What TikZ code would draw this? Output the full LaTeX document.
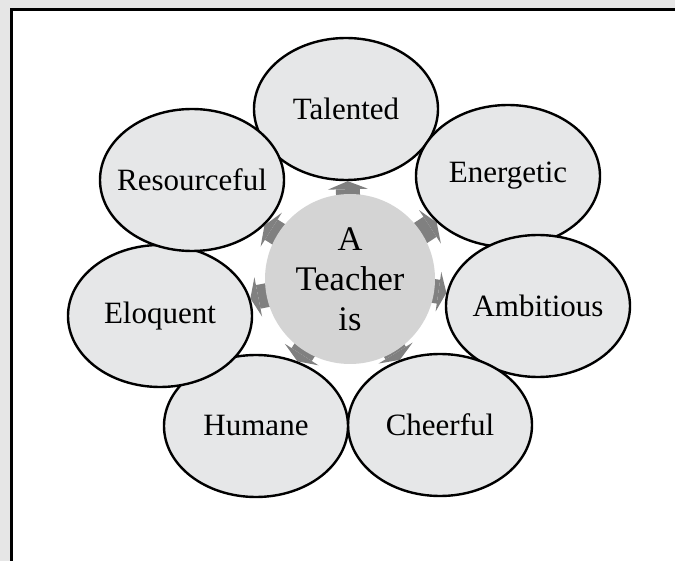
\documentclass[tikz,border=0pt]{standalone}
\usepackage{fontspec}
\setmainfont{Liberation Serif}
\usepackage{tikz}
\usetikzlibrary{shapes.geometric,arrows.meta,backgrounds}

\definecolor{pagegray}{HTML}{E6E6E6}
\definecolor{traitgray}{HTML}{E6E7E8}
\definecolor{hubgray}{HTML}{D4D4D4}
\definecolor{spokegray}{HTML}{808080}

\tikzset{
  trait/.style={ellipse, draw=black, line width=2.4pt, fill=traitgray, minimum width=184pt, minimum height=142pt, inner xsep=-30pt, inner ysep=0pt, font=\fontsize{31}{35}\selectfont},
  hubnode/.style={circle, fill=hubgray, minimum size=170pt, inner sep=-20pt, align=center, font=\fontsize{34.5}{40}\selectfont},
  spoke/.style={spokegray, line width=24pt, -{Triangle[width=40pt,length=8pt,line width=0pt]}, shorten <=-6pt}
}

\begin{document}
\begin{tikzpicture}[x=1pt, y=-1pt]
    \useasboundingbox (0,0) rectangle (675,561);

    % centre and the seven qualities
    \node (hub) at (350,279) [hubnode] {A\\Teacher\\is};

    \node (tal) at (346,109) [trait] {Talented};
    \node (ene) at (508,176) [trait] {Energetic};
    \node (amb) at (538,306) [trait] {Ambitious};
    \node (che) at (440,425) [trait] {Cheerful};
    \node (hum) at (256,426) [trait] {Humane};
    \node (elo) at (160,316) [trait] {Eloquent};
    \node (res) at (192,180) [trait] {Resourceful};

    \begin{scope}[on background layer]
        \fill [pagegray] (0,0) rectangle (675,561);
        \fill [white] (11.5,9.5) rectangle (675,561);
        \draw [line width=3pt] (11.5,561) -- (11.5,9.5) -- (675,9.5);

        \foreach \q in {tal,ene,amb,che,hum,elo,res}
            \draw [spoke] (hub) -- (\q);
    \end{scope}
\end{tikzpicture}
\end{document}
